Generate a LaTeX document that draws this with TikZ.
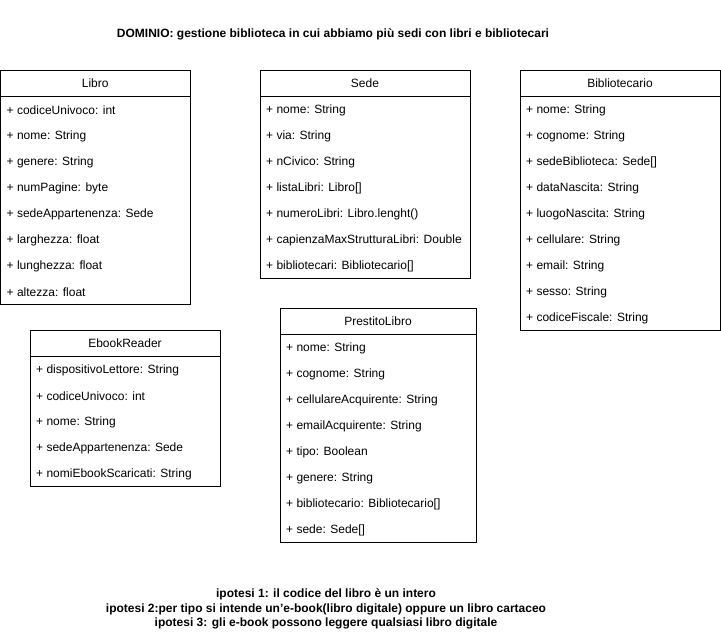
\documentclass[tikz,border=0pt]{standalone}
\usepackage{fontspec}
\setmainfont{Liberation Sans}
\usepackage{tikz}
\usetikzlibrary{calc}
\tikzset{
  classhead/.style={inner sep=0pt, anchor=center},
  classrow/.style={inner sep=0pt, anchor=west},
  classbox/.style={draw=black, line width=1pt},
  notetext/.style={inner sep=0pt, align=center, font=\fontsize{12}{14.5}\selectfont\bfseries}
}
\newcommand{\UmlClass}[6]{
	\def\lname{#1}
	\def\lx{#2}
	\def\ly{#3}
	\def\lw{#4}
	\def\ltitle{#5}
	\def\rowh{26}
	\node[classhead] (\lname) at (\lx+\lw/2, \ly+\rowh/2) {\ltitle};
	\foreach \attr [count=\i] in {#6} {
		\node[classrow] (\lname-\i) at (\lx+6, \ly+\rowh*\i+\rowh/2+1) {\attr};
		\xdef\lastrow{\i}
	}
	\draw[classbox] (\lx,\ly) rectangle (\lx+\lw, \ly+\rowh*\lastrow+\rowh);
	\draw[classbox] (\lx,\ly+\rowh) -- (\lx+\lw,\ly+\rowh);
}

\begin{document}
\begin{tikzpicture}[x=1pt, y=-1pt, font=\fontsize{12}{14}\selectfont]

  \useasboundingbox (0,0) rectangle (721,638);

  \node[notetext] (dominio) at (333,34.5) {DOMINIO: gestione biblioteca in cui abbiamo più sedi con libri e bibliotecari};

  \UmlClass{libro}{0.5}{70}{189.5}{Libro}{+ codiceUnivoco: int, + nome: String, + genere: String, + numPagine: byte, + sedeAppartenenza: Sede, + larghezza: float, + lunghezza: float, + altezza: float}
  \UmlClass{sede}{260}{70}{210}{Sede}{+ nome: String, + via: String, + nCivico: String, + listaLibri: Libro[], + numeroLibri: Libro.lenght(), + capienzaMaxStrutturaLibri: Double, + bibliotecari: Bibliotecario[]}
  \UmlClass{bibliotecario}{520}{70}{200}{Bibliotecario}{+ nome: String, + cognome: String, + sedeBiblioteca: Sede[], + dataNascita: String, + luogoNascita: String, + cellulare: String, + email: String, + sesso: String, + codiceFiscale: String}
  \UmlClass{ebook}{30}{330}{190}{EbookReader}{+ dispositivoLettore: String, + codiceUnivoco: int, + nome: String, + sedeAppartenenza: Sede, + nomiEbookScaricati: String}
  \UmlClass{prestito}{280}{308}{196}{PrestitoLibro}{+ nome: String, + cognome: String, + cellulareAcquirente: String, + emailAcquirente: String, + tipo: Boolean, + genere: String, + bibliotecario: Bibliotecario[], + sede: Sede[]}

  % ipotesi
  \node[notetext] (ipotesi) at (326,609) {ipotesi 1: il codice del libro è un intero\\ipotesi 2:per tipo si intende un'e-book(libro digitale) oppure un libro cartaceo\\ipotesi 3: gli e-book possono leggere qualsiasi libro digitale};

\end{tikzpicture}
\end{document}
